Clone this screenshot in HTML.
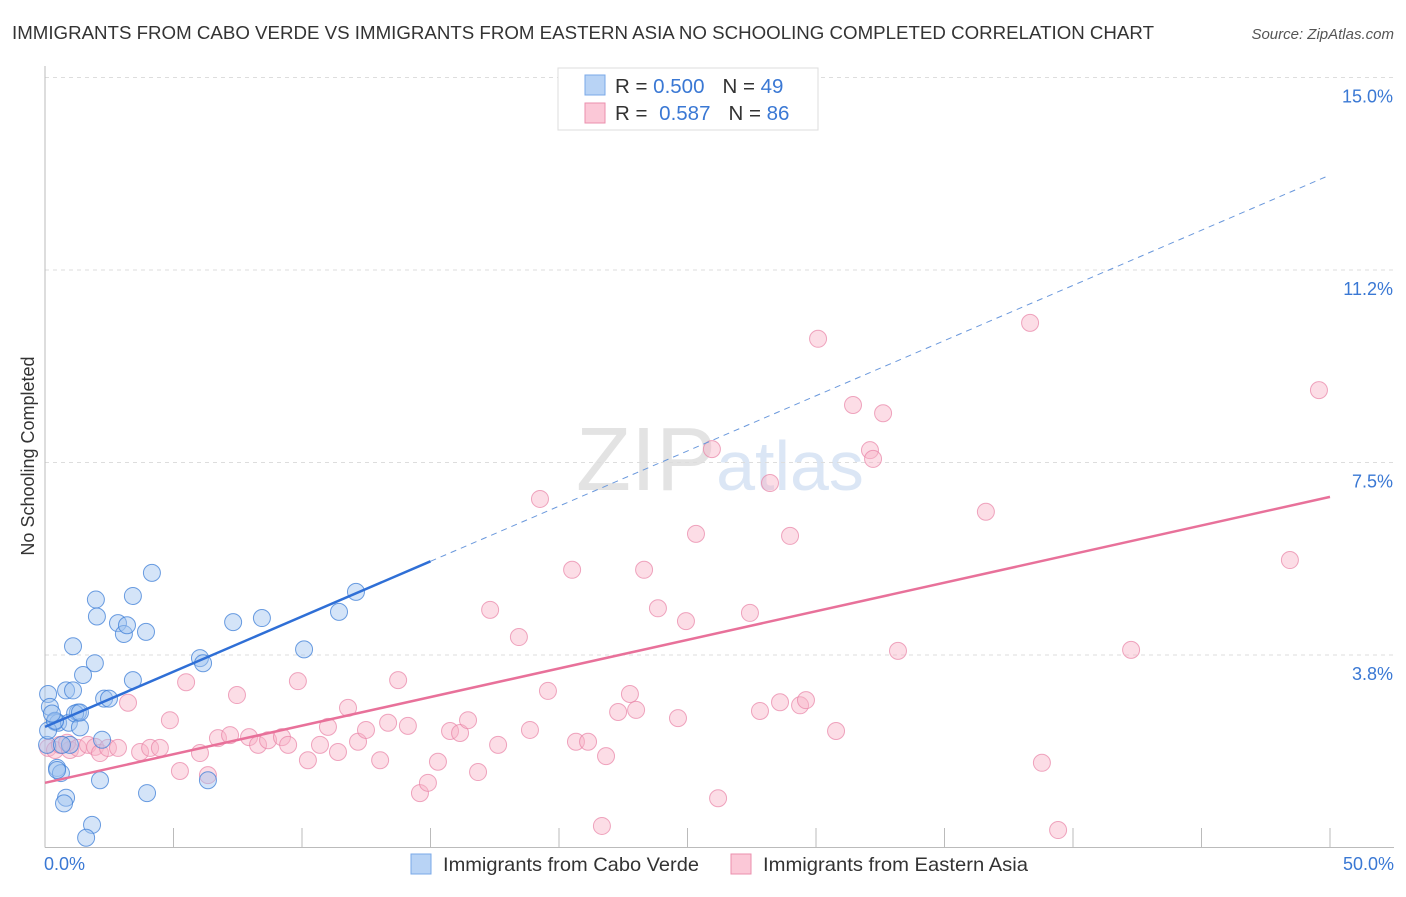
<!DOCTYPE html>
<html><head><meta charset="utf-8"><style>
body{margin:0;background:#fff;font-family:"Liberation Sans",sans-serif;}
svg text{font-family:"Liberation Sans",sans-serif;}
</style></head><body>
<svg id="chart" width="1406" height="892" xmlns="http://www.w3.org/2000/svg">
<text x="12" y="39" font-size="18" fill="#333" textLength="1142" lengthAdjust="spacingAndGlyphs">IMMIGRANTS FROM CABO VERDE VS IMMIGRANTS FROM EASTERN ASIA NO SCHOOLING COMPLETED CORRELATION CHART</text>
<text x="1394" y="39" font-size="15" fill="#555" font-style="italic" text-anchor="end">Source: ZipAtlas.com</text>
<text x="720" y="490" font-size="90" fill="#e8e8e8" text-anchor="middle" font-family="Liberation Serif"><tspan fill="#e3e3e3">ZIP</tspan><tspan fill="#dbe6f5" font-family="Liberation Sans" font-size="70">atlas</tspan></text>
<g id="grid"></g>
<g id="axes"></g>
<text transform="translate(34,456) rotate(-90)" font-size="18" fill="#333" text-anchor="middle">No Schooling Completed</text>
<g id="points"></g>
<g id="trends"></g>
<g>
<rect x="558" y="68" width="260" height="62" fill="#fff" stroke="#ddd"/>
<rect x="585" y="75" width="20" height="20" fill="#b8d3f5" stroke="#7aa8e8"/>
<text x="615" y="93" font-size="20.5" fill="#333">R = <tspan fill="#3a78d4">0.500</tspan><tspan dx="18">N = </tspan><tspan fill="#3a78d4">49</tspan></text>
<rect x="585" y="103" width="20" height="20" fill="#fbc8d7" stroke="#eb8fae"/>
<text x="615" y="120" font-size="20.5" fill="#333">R = <tspan dx="6" fill="#3a78d4">0.587</tspan><tspan dx="18">N = </tspan><tspan fill="#3a78d4">86</tspan></text>
</g>
<g>
<rect x="411" y="854" width="20" height="20" fill="#b8d3f5" stroke="#7aa8e8"/>
<text x="443" y="871" font-size="19.5" fill="#333" textLength="256" lengthAdjust="spacingAndGlyphs">Immigrants from Cabo Verde</text>
<rect x="731" y="854" width="20" height="20" fill="#fbc8d7" stroke="#eb8fae"/>
<text x="763" y="871" font-size="19.5" fill="#333" textLength="265" lengthAdjust="spacingAndGlyphs">Immigrants from Eastern Asia</text>
</g>
</svg>
<script>
const yTicks=[3.75,7.5,11.25,15];
const yTickLabels=["3.8%","7.5%","11.2%","15.0%"];
const xTickLabels=["0.0%","50.0%"];
const blueX=[0.12,0.19,0.39,0.51,0.08,0.47,0.62,0.82,1.09,0.93,0.97,1.28,1.17,1.36,1.48,1.09,1.94,1.98,2.02,2.30,2.49,2.22,2.14,0.82,0.74,1.83,1.60,2.84,3.07,3.19,3.42,3.93,4.16,3.42,3.97,6.03,6.15,6.34,7.32,8.44,10.08,11.44,12.10,0.12,0.39,0.66,0.27,0.47,1.36];
const blueY=[2.99,2.74,2.45,2.43,2.00,1.55,1.45,3.06,3.06,2.43,2.00,2.63,2.61,2.34,3.36,3.92,3.59,4.83,4.50,2.90,2.90,2.10,1.31,0.97,0.86,0.44,0.19,4.37,4.16,4.33,4.90,4.20,5.35,3.26,1.06,3.69,3.59,1.31,4.39,4.47,3.86,4.59,4.98,2.28,2.47,2.00,2.61,1.51,2.63];
const pinkX=[0.12,0.39,0.58,0.97,0.86,1.28,1.67,1.95,2.14,2.45,2.84,3.23,3.70,4.09,4.47,4.86,5.25,5.49,6.03,6.34,6.73,7.20,7.47,7.94,8.29,8.68,9.22,9.46,9.84,10.23,10.70,11.01,11.40,11.79,12.18,12.49,13.04,13.35,13.74,14.12,14.59,14.90,15.29,15.76,16.15,16.46,16.85,17.32,17.63,18.44,18.87,19.26,19.57,20.51,20.66,21.13,21.67,21.83,22.30,22.76,23.00,23.31,23.85,24.63,24.94,25.33,25.95,26.19,27.43,27.82,28.21,28.60,28.99,29.38,29.61,30.08,30.78,31.44,32.10,32.22,32.61,33.19,36.61,38.33,38.79,39.42,42.26,48.44,49.57];
const pinkY=[1.94,1.90,2.00,1.90,2.04,1.94,2.00,1.96,1.84,1.94,1.94,2.82,1.86,1.94,1.94,2.48,1.49,3.22,1.84,1.41,2.13,2.19,2.97,2.15,2.00,2.09,2.15,2.00,3.24,1.70,2.00,2.35,1.86,2.72,2.06,2.29,1.70,2.43,3.26,2.37,1.06,1.26,1.67,2.27,2.23,2.48,1.47,4.63,2.00,4.10,2.29,6.79,3.05,5.41,2.06,2.06,0.42,1.78,2.64,2.99,2.68,5.41,4.66,2.52,4.41,6.11,7.76,0.96,4.57,2.66,7.10,2.83,6.07,2.77,2.87,9.91,2.27,8.62,7.74,7.57,8.46,3.83,6.54,10.22,1.65,0.34,3.85,5.60,8.91];
const blueTrend=[2.35,13.1];
const pinkTrend=[1.26,6.83];
const NS="http://www.w3.org/2000/svg";
const X0=45,X1=1330,YB=847.5,YT=77.5;
function sx(v){return X0+(v/50)*(X1-X0);}
function sy(v){return YB-(v/15)*(YB-YT);}
function mk(tag,attrs,parent){const e=document.createElementNS(NS,tag);for(const k in attrs)e.setAttribute(k,attrs[k]);parent.appendChild(e);return e;}
const grid=document.getElementById('grid'),axes=document.getElementById('axes');
yTicks.forEach((t,i)=>{
 const l=mk('line',{x1:X0,x2:1394,y1:sy(t),y2:sy(t),stroke:'#ddd','stroke-dasharray':'4,4'},grid);
 
 
 const tx=mk('text',{x:1393,y:sy(t)+25,'font-size':18,fill:'#3a78d4','text-anchor':'end'},axes);
 tx.textContent=yTickLabels[i];
 
 
});
const ax=mk('line',{x1:X0,x2:X0,y1:66,y2:YB,stroke:'#bbb'},axes);


const bx=mk('line',{x1:X0,x2:1394,y1:YB,y2:YB,stroke:'#bbb'},axes);


for(let i=1;i<=10;i++){
 const t=mk('line',{x1:sx(i*5),x2:sx(i*5),y1:828,y2:YB,stroke:'#bbb'},axes);
 
 
}
const xl0=mk('text',{x:44,y:870,'font-size':18,fill:'#3a78d4'},axes);xl0.textContent=xTickLabels[0];


const xl1=mk('text',{x:1394,y:870,'font-size':18,fill:'#3a78d4','text-anchor':'end'},axes);xl1.textContent=xTickLabels[1];


const pts=document.getElementById('points');
pinkX.forEach((v,i)=>{
 const c=mk('circle',{cx:sx(v),cy:sy(pinkY[i]),r:8.5,fill:'rgba(248,180,200,0.45)',stroke:'rgba(232,130,165,0.7)','stroke-width':1},pts);
 
 
});
blueX.forEach((v,i)=>{
 const c=mk('circle',{cx:sx(v),cy:sy(blueY[i]),r:8.5,fill:'rgba(160,195,240,0.45)',stroke:'rgba(60,125,215,0.75)','stroke-width':1},pts);
 
 
});
const tr=document.getElementById('trends');
function by(x){return blueTrend[0]+(blueTrend[1]-blueTrend[0])*x/50;}
const b1=mk('line',{x1:sx(0),y1:sy(by(0)),x2:sx(15),y2:sy(by(15)),stroke:'#2f6fd6','stroke-width':2.5},tr);


const b2=mk('line',{x1:sx(15),y1:sy(by(15)),x2:sx(50),y2:sy(by(50)),stroke:'#6a98dc','stroke-width':1,'stroke-dasharray':'6,5'},tr);


const p1=mk('line',{x1:sx(0),y1:sy(pinkTrend[0]),x2:sx(50),y2:sy(pinkTrend[1]),stroke:'#e8719a','stroke-width':2.5},tr);


</script>
</body></html>
